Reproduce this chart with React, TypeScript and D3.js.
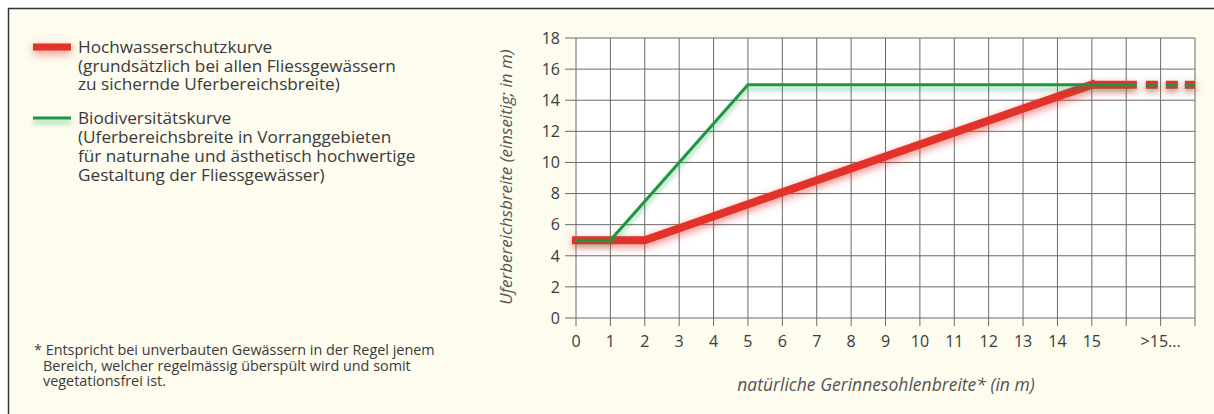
import React from "react";
import { scaleLinear, line, range } from "d3";

// x = natural channel bed width (m), y = bank zone width, one side (m)
const floodCurve: [number, number][] = [[0, 5], [2, 5], [15, 15]];
const bioCurve: [number, number][] = [[0, 5], [1, 5], [5, 15], [15, 15]];
const beyond: [number, number][] = [[15, 15], [18, 15]];

const xTickLabels = ["0", "1", "2", "3", "4", "5", "6", "7", "8", "9", "10", "11", "12", "13", "14", "15"];
const xOverflowLabel = ">15...";
const yTicks = [0, 2, 4, 6, 8, 10, 12, 14, 16, 18];

const legendFlood = [
  "Hochwasserschutzkurve",
  "(grundsätzlich bei allen Fliessgewässern",
  "zu sichernde Uferbereichsbreite)",
];
const legendBio = [
  "Biodiversitätskurve",
  "(Uferbereichsbreite in Vorranggebieten",
  "für naturnahe und ästhetisch hochwertige",
  "Gestaltung der Fliessgewässer)",
];
const footnote = [
  "* Entspricht bei unverbauten Gewässern in der Regel jenem",
  "Bereich, welcher regelmässig überspült wird und somit",
  "vegetationsfrei ist.",
];

const W = 1214;
const H = 414;
const RED = "#e3312a";
const GREEN = "#1f9641";
const GRID = "#6a6a6a";
const BG = "#fdfcef";
const TEXT = "#3a3a3a";
const FONT = "'Open Sans', 'Noto Sans', sans-serif";

const App = () => {
  const x = scaleLinear().domain([0, 18]).range([576, 1195]);
  const y = scaleLinear().domain([0, 18]).range([318, 38]);
  const path = line<[number, number]>()
    .x((d) => x(d[0]))
    .y((d) => y(d[1]));

  return (
    <svg
      width={W}
      height={H}
      style={{ position: "absolute", left: 0, top: 0, fontFamily: FONT }}
    >
      <defs>
        <filter id="glowRed" filterUnits="userSpaceOnUse" x="0" y="0" width={W} height={H}>
          <feGaussianBlur in="SourceGraphic" stdDeviation="4" result="b" />
          <feOffset in="b" dy="3" result="o" />
          <feComponentTransfer in="o" result="s">
            <feFuncA type="linear" slope="0.6" />
          </feComponentTransfer>
          <feMerge>
            <feMergeNode in="s" />
            <feMergeNode in="SourceGraphic" />
          </feMerge>
        </filter>
        <filter id="glowGreen" filterUnits="userSpaceOnUse" x="0" y="0" width={W} height={H}>
          <feGaussianBlur in="SourceGraphic" stdDeviation="2.5" result="b" />
          <feOffset in="b" dy="4" result="o" />
          <feComponentTransfer in="o" result="s">
            <feFuncA type="linear" slope="0.45" />
          </feComponentTransfer>
          <feMerge>
            <feMergeNode in="s" />
            <feMergeNode in="SourceGraphic" />
          </feMerge>
        </filter>
      </defs>

      <rect x={0} y={0} width={W} height={H} fill="#ffffff" />
      <rect x={8} y={8} width={W - 8} height={H - 8} fill={BG} />
      <line x1={8} x2={W} y1={8.5} y2={8.5} stroke="#333" strokeWidth={1.5} />
      <line x1={8.5} x2={8.5} y1={8} y2={H} stroke="#333" strokeWidth={1.5} />

      {/* legend */}
      <rect x={33} y={43.5} width={38} height={7} fill={RED} filter="url(#glowRed)" />
      {legendFlood.map((t, i) => (
        <text key={t} x={78} y={53 + i * 18.5} fontSize={17.2} fill={TEXT}>{t}</text>
      ))}
      <rect x={33} y={116.5} width={38} height={3} fill={GREEN} filter="url(#glowGreen)" />
      {legendBio.map((t, i) => (
        <text key={t} x={78} y={124 + i * 19} fontSize={17.2} fill={TEXT}>{t}</text>
      ))}

      {/* footnote */}
      {footnote.map((t, i) => (
        <text key={t} x={i === 0 ? 34 : 43} y={355 + i * 15.5} fontSize={14.4} fill={TEXT}>{t}</text>
      ))}

      {/* plot area */}
      <rect x={x(0)} y={y(18)} width={x(18) - x(0)} height={y(0) - y(18)} fill="#ffffff" />
      {range(0, 19).map((v) => (
        <line key={"v" + v} x1={x(v)} x2={x(v)} y1={y(18)} y2={y(0) + 8} stroke={GRID} strokeWidth={1} />
      ))}
      {yTicks.map((v) => (
        <line key={"h" + v} x1={x(0) - 11} x2={x(18)} y1={y(v)} y2={y(v)} stroke={GRID} strokeWidth={1} />
      ))}

      {yTicks.map((v) => (
        <text key={"yl" + v} x={560} y={y(v)} dy="0.36em" textAnchor="end" fontSize={16} fill={TEXT}>{v}</text>
      ))}
      {xTickLabels.map((t, i) => (
        <text key={"xl" + t} x={x(i)} y={347} textAnchor="middle" fontSize={16} fill={TEXT}>{t}</text>
      ))}
      <text x={x(17)} y={347} textAnchor="middle" fontSize={16} fill={TEXT}>{xOverflowLabel}</text>

      <text
        transform={`translate(512, 177) rotate(-90)`}
        textAnchor="middle"
        fontSize={17}
        fontStyle="italic"
        fill="#555"
      >
        Uferbereichsbreite (einseitig; in m)
      </text>
      <text x={886} y={391} textAnchor="middle" fontSize={17.5} fontStyle="italic" fill="#555">
        natürliche Gerinnesohlenbreite* (in m)
      </text>

      {/* curves */}
      <g filter="url(#glowRed)">
        <path d={path(floodCurve) ?? ""} fill="none" stroke={RED} strokeWidth={8} strokeLinejoin="miter" strokeLinecap="square" />
        <path d={path(beyond) ?? ""} fill="none" stroke={RED} strokeWidth={8} strokeDasharray="45 9 12 8 12 7 11" />
      </g>
      <g filter="url(#glowGreen)">
        <path d={path(bioCurve) ?? ""} fill="none" stroke={GREEN} strokeWidth={3} strokeLinejoin="miter" />
        <path d={path(beyond) ?? ""} fill="none" stroke={GREEN} strokeWidth={3} strokeDasharray="45 9 12 8 12 7 11" />
      </g>
    </svg>
  );
};

export default App;
